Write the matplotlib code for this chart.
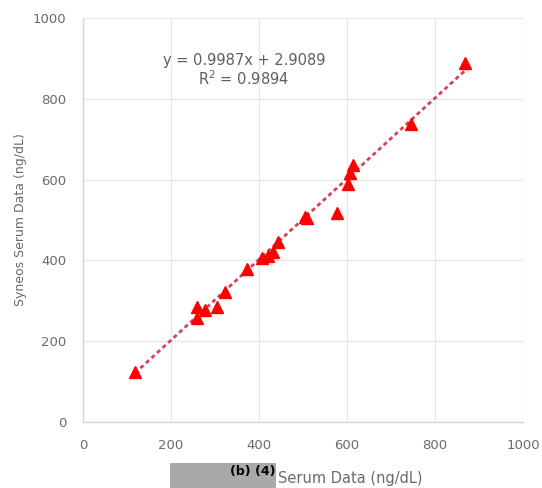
import matplotlib
matplotlib.use("Agg")
import matplotlib.pyplot as plt
from matplotlib.patches import Rectangle
import numpy as np

# Data
serum_x = [118, 259, 259, 277, 305, 323, 373, 407, 420, 432, 443, 505, 510, 577, 602, 607, 614, 745, 868]
syneos_y = [124, 285, 257, 277, 285, 322, 379, 406, 410, 420, 446, 507, 505, 517, 589, 616, 636, 738, 889]
slope = 0.9987
intercept = 2.9089
eq_text = "y = 0.9987x + 2.9089"
r2_text = "R$^2$ = 0.9894"
xticks = [0, 200, 400, 600, 800, 1000]
yticks = [0, 200, 400, 600, 800, 1000]

W, H = 542, 488
fig = plt.figure(figsize=(W / 100, H / 100), dpi=100)
fig.patch.set_facecolor("white")
ax = fig.add_axes([83 / W, (H - 422) / H, 440 / W, 404 / H])

txt = "#6a6a6a"
grid_c = "#e8e8e8"

ax.set_xlim(0, 1000)
ax.set_ylim(0, 1000)
ax.set_xticks(xticks)
ax.set_yticks(yticks)
ax.grid(True, color=grid_c, lw=1)
ax.set_axisbelow(True)
for s in ["top", "right"]:
    ax.spines[s].set_visible(False)
for s in ["left", "bottom"]:
    ax.spines[s].set_color("#d6d6d6")
    ax.spines[s].set_linewidth(1)
ax.tick_params(length=0, pad=12, labelsize=9.5, labelcolor=txt)

# trendline
xs = np.array([min(serum_x), max(serum_x)])
ax.plot(xs, slope * xs + intercept, color="#d8405a", lw=2, ls=(0, (1.5, 1.2)), zorder=2)

ax.plot(serum_x, syneos_y, ls="none", marker="^", ms=9, color="#ff0000",
        markeredgecolor="#ff0000", zorder=3)

ax.text(366, 896, eq_text, ha="center", va="center", fontsize=10.5, color="#5f5f5f")
ax.text(366, 851, r2_text, ha="center", va="center", fontsize=10.5, color="#5f5f5f")

ax.set_ylabel("Syneos Serum Data (ng/dL)", fontsize=9, color=txt, labelpad=4)

# redaction box and x label
fig.patches.append(Rectangle((170 / W, 0), 106 / W, (H - 463) / H,
                             transform=fig.transFigure, facecolor="#a9a9a9",
                             edgecolor="none"))
fig.text(276 / W, (H - 472) / H, "(b) (4)", ha="right", va="center",
         fontsize=9, fontweight="bold", color="black")
fig.text(278 / W, (H - 479) / H, "Serum Data (ng/dL)", ha="left", va="center",
         fontsize=10.5, color=txt)

fig.savefig("out.png", dpi=100, facecolor="white")
